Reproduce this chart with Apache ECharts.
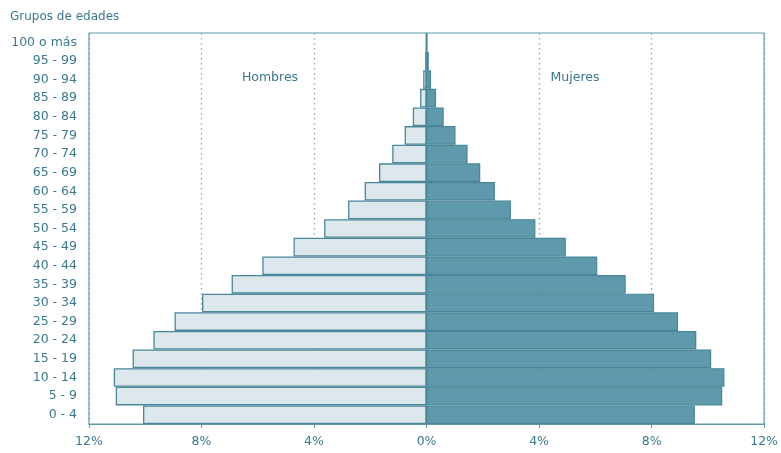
<!DOCTYPE html>
<html>
<head>
<meta charset="utf-8">
<script src="https://cdn.jsdelivr.net/npm/echarts@6/dist/echarts.min.js"></script>
<style>html,body{margin:0;padding:0;background:#fff}#c{width:781px;height:453px}</style>
</head>
<body>
<div id="c"></div>
<script>
const categories = ['0 - 4','5 - 9','10 - 14','15 - 19','20 - 24','25 - 29','30 - 34','35 - 39','40 - 44','45 - 49','50 - 54','55 - 59','60 - 64','65 - 69','70 - 74','75 - 79','80 - 84','85 - 89','90 - 94','95 - 99','100 o más'];
const hombres = [10.08, 11.05, 11.12, 10.45, 9.71, 8.96, 7.98, 6.93, 5.84, 4.73, 3.64, 2.79, 2.2, 1.69, 1.22, 0.78, 0.49, 0.23, 0.12, 0.05, 0.02];
const mujeres = [9.54, 10.51, 10.59, 10.12, 9.59, 8.94, 8.09, 7.08, 6.07, 4.95, 3.87, 3.0, 2.43, 1.91, 1.46, 1.03, 0.61, 0.34, 0.16, 0.08, 0.03];
const xTicks = [-12, -8, -4, 0, 4, 8, 12];

const txt = '#3a7a90';
const line = '#6399ab';
const font = 'DejaVu Sans';

const chart = echarts.init(document.getElementById('c'), null, {renderer: 'canvas'});
chart.setOption({
  animation: false,
  backgroundColor: '#fff',
  textStyle: {fontFamily: font},
  grid: {left: 89, right: 16, top: 33, bottom: 29, show: true, borderColor: line, borderWidth: 1.2},
  graphic: [
    {type: 'text', left: 10, top: 11, style: {text: 'Grupos de edades', fill: txt, font: '12px "DejaVu Sans"'}},
    {type: 'text', x: 270, y: 78, style: {text: 'Hombres', fill: txt, font: '12.5px "DejaVu Sans"', textAlign: 'center', textVerticalAlign: 'middle'}},
    {type: 'text', x: 575, y: 78, style: {text: 'Mujeres', fill: txt, font: '12.5px "DejaVu Sans"', textAlign: 'center', textVerticalAlign: 'middle'}}
  ],
  xAxis: {
    type: 'value', min: xTicks[0], max: xTicks[xTicks.length - 1], interval: 4,
    axisLine: {show: true, lineStyle: {color: line, width: 1.2}},
    axisTick: {show: true, length: 4, lineStyle: {color: line}},
    axisLabel: {color: txt, fontSize: 12.5, fontFamily: font, margin: 11, formatter: v => Math.abs(v) + '%'},
    splitLine: {show: true, lineStyle: {color: '#7fa9b7', type: [1.5, 3.5], width: 1.3}}
  },
  yAxis: {
    type: 'category', data: categories,
    axisLine: {show: true, lineStyle: {color: line, width: 1.2}},
    axisTick: {show: false},
    axisLabel: {color: txt, fontSize: 12.5, fontFamily: font, margin: 12}
  },
  series: [
    {
      name: 'Hombres', type: 'bar', data: hombres.map(v => -v),
      barWidth: '100%', barGap: '-100%',
      itemStyle: {color: '#dce8ec', borderColor: '#4a8799', borderWidth: 1.3}
    },
    {
      name: 'Mujeres', type: 'bar', data: mujeres,
      barWidth: '100%', barGap: '-100%',
      itemStyle: {color: '#5f9aac', borderColor: '#4a8698', borderWidth: 1.2}
    }
  ]
});
</script>
</body>
</html>
